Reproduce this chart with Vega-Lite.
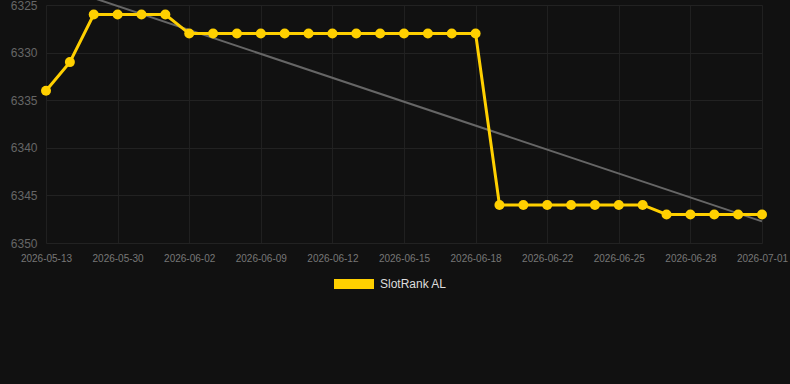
{
  "$schema": "https://vega.github.io/schema/vega-lite/v6.json",
  "width": 716,
  "height": 238,
  "autosize": "none",
  "padding": {"left": 46, "top": 5, "right": 28, "bottom": 141},
  "background": "#111111",
  "config": {"view": {"stroke": null}, "font": "Liberation Sans"},
  "data": {"values": [
    {"i": 0, "d": "2026-05-13", "v": 6334, "s": "SlotRank AL"},
    {"i": 1, "d": "2026-05-20", "v": 6331, "s": "SlotRank AL"},
    {"i": 2, "d": "2026-05-27", "v": 6326, "s": "SlotRank AL"},
    {"i": 3, "d": "2026-05-30", "v": 6326, "s": "SlotRank AL"},
    {"i": 4, "d": "2026-05-31", "v": 6326, "s": "SlotRank AL"},
    {"i": 5, "d": "2026-06-01", "v": 6326, "s": "SlotRank AL"},
    {"i": 6, "d": "2026-06-02", "v": 6328, "s": "SlotRank AL"},
    {"i": 7, "d": "2026-06-05", "v": 6328, "s": "SlotRank AL"},
    {"i": 8, "d": "2026-06-07", "v": 6328, "s": "SlotRank AL"},
    {"i": 9, "d": "2026-06-09", "v": 6328, "s": "SlotRank AL"},
    {"i": 10, "d": "2026-06-10", "v": 6328, "s": "SlotRank AL"},
    {"i": 11, "d": "2026-06-11", "v": 6328, "s": "SlotRank AL"},
    {"i": 12, "d": "2026-06-12", "v": 6328, "s": "SlotRank AL"},
    {"i": 13, "d": "2026-06-13", "v": 6328, "s": "SlotRank AL"},
    {"i": 14, "d": "2026-06-14", "v": 6328, "s": "SlotRank AL"},
    {"i": 15, "d": "2026-06-15", "v": 6328, "s": "SlotRank AL"},
    {"i": 16, "d": "2026-06-16", "v": 6328, "s": "SlotRank AL"},
    {"i": 17, "d": "2026-06-17", "v": 6328, "s": "SlotRank AL"},
    {"i": 18, "d": "2026-06-18", "v": 6328, "s": "SlotRank AL"},
    {"i": 19, "d": "2026-06-20", "v": 6346, "s": "SlotRank AL"},
    {"i": 20, "d": "2026-06-21", "v": 6346, "s": "SlotRank AL"},
    {"i": 21, "d": "2026-06-22", "v": 6346, "s": "SlotRank AL"},
    {"i": 22, "d": "2026-06-23", "v": 6346, "s": "SlotRank AL"},
    {"i": 23, "d": "2026-06-24", "v": 6346, "s": "SlotRank AL"},
    {"i": 24, "d": "2026-06-25", "v": 6346, "s": "SlotRank AL"},
    {"i": 25, "d": "2026-06-26", "v": 6346, "s": "SlotRank AL"},
    {"i": 26, "d": "2026-06-27", "v": 6347, "s": "SlotRank AL"},
    {"i": 27, "d": "2026-06-28", "v": 6347, "s": "SlotRank AL"},
    {"i": 28, "d": "2026-06-29", "v": 6347, "s": "SlotRank AL"},
    {"i": 29, "d": "2026-06-30", "v": 6347, "s": "SlotRank AL"},
    {"i": 30, "d": "2026-07-01", "v": 6347, "s": "SlotRank AL"}
  ]},
  "layer": [
    {
      "transform": [{"regression": "v", "on": "i"}],
      "mark": {"type": "line", "color": "#666666", "strokeWidth": 2, "clip": false},
      "encoding": {
        "x": {"field": "i", "type": "quantitative", "scale": {"domain": [0, 30], "nice": false, "zero": false}, "axis": null},
        "y": {"field": "v", "type": "quantitative", "scale": {"domain": [6325, 6350], "reverse": true, "zero": false, "nice": false},
          "axis": {"title": null, "format": "d", "values": [6325, 6330, 6335, 6340, 6345, 6350], "labelColor": "#666666", "labelFontSize": 12, "labelPadding": 9, "grid": true, "gridColor": "#222222", "domain": false, "ticks": false}}
      }
    },
    {
      "mark": {"type": "line", "strokeWidth": 3, "point": {"filled": true, "size": 100, "opacity": 1}},
      "encoding": {
        "x": {"field": "d", "type": "ordinal", "sort": null, "scale": {"type": "point", "padding": 0},
          "axis": {"title": null, "values": ["2026-05-13","2026-05-30","2026-06-02","2026-06-09","2026-06-12","2026-06-15","2026-06-18","2026-06-22","2026-06-25","2026-06-28","2026-07-01"],
            "labelAngle": 0, "labelColor": "#777777", "labelFontSize": 10, "labelPadding": 10, "grid": true, "gridColor": "#202020", "domain": false, "ticks": false}},
        "y": {"field": "v", "type": "quantitative"},
        "color": {"field": "s", "type": "nominal", "scale": {"domain": ["SlotRank AL"], "range": ["#FFD000"]},
          "legend": {"title": null, "orient": "none", "legendX": 288, "legendY": 259, "symbolType": "M-1,-0.25L1,-0.25L1,0.25L-1,0.25Z", "symbolSize": 1600, "symbolStrokeWidth": 0, "symbolFillColor": "#FFD000", "labelColor": "#dddddd", "labelFontSize": 12, "labelOffset": 6}}
      }
    }
  ],
  "resolve": {"scale": {"x": "independent"}}
}
